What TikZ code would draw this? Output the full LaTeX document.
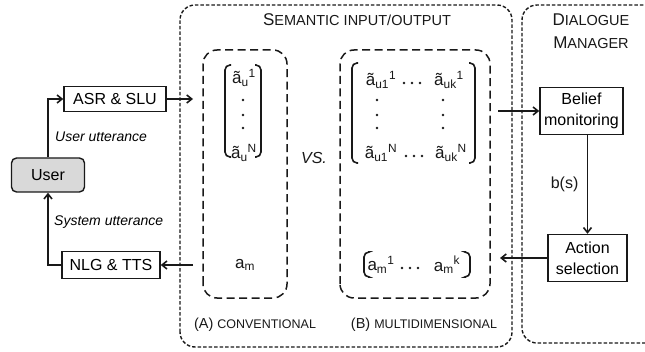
\documentclass[tikz,border=0pt]{standalone}
\usepackage{fontspec}
\setmainfont{Liberation Sans}
\usepackage{tikz}
\usetikzlibrary{arrows.meta, positioning, calc}
\definecolor{mydark}{RGB}{25,25,25}
\definecolor{usergray}{RGB}{217,217,217}
% capital first letter, rest in smaller capitals
\newcommand{\titlecaps}[2]{{\fontsize{17}{23}\selectfont #1}{\fontsize{14.5}{23}\selectfont #2}}
\newcommand{\labelcaps}[2]{{\fontsize{14.5}{17}\selectfont #1}{\fontsize{12.5}{17}\selectfont #2}}
\tikzset{
  block/.style={rectangle, draw=mydark, fill=white, align=center,
    font=\fontsize{16}{21}\selectfont, inner sep=2pt, line width=1.4pt},
  userblock/.style={block, fill=usergray, rounded corners=5pt},
  outerbox/.style={draw=mydark, line width=1.4pt, dash pattern=on 3.5pt off 2pt, rounded corners=15pt},
  innerbox/.style={draw=mydark, line width=1.5pt, dash pattern=on 8pt off 4.5pt, rounded corners=14pt},
  arrow/.style={-{Straight Barb[length=5pt,width=8pt]}, line width=1.6pt, color=mydark},
  entry/.style={font=\fontsize{17}{20}\selectfont, inner sep=0pt, text=mydark},
  vdot/.style={circle, fill=mydark, inner sep=0pt, minimum size=2.6pt},
  bracket/.style={line width=1.6pt, color=mydark, rounded corners=5pt},
  utter/.style={font=\fontsize{14}{17}\selectfont\itshape, anchor=west, inner sep=0pt},
  caption/.style={inner sep=0pt, text=mydark}
}

\begin{document}
\begin{tikzpicture}[x=1pt, y=1pt]
  \clip (0,0) rectangle (645,351);
  \fill[white] (0,0) rectangle (645,351);

  % Semantic input/output and dialogue manager frames
  \draw[outerbox] (180,4) rectangle (512,346);
  \draw[outerbox] (522,8) rectangle (670,346);
  \node[caption] (semtitle) at (357,331) {\titlecaps{S}{EMANTIC INPUT/OUTPUT}};
  \node[caption, align=center, font=\fontsize{17}{23}\selectfont] (dmtitle) at (591,320) {\titlecaps{D}{IALOGUE}\\\titlecaps{M}{ANAGER}};

  % Conventional and multidimensional boxes
  \draw[innerbox] (203,53) rectangle (287,301);
  \draw[innerbox] (340,53) rectangle (490,301);
  \node[caption] (capa) at (255,26) {\labelcaps{(A) }{CONVENTIONAL}};
  \node[caption] (capb) at (424,26) {\labelcaps{(B) }{MULTIDIMENSIONAL}};

  % Pipeline blocks
  \node[block, minimum width=102pt, minimum height=25pt] (asr) at (115,252) {ASR \& SLU};
  \node[userblock, minimum width=73pt, minimum height=34pt] (user) at (48,176) {User};
  \node[block, minimum width=98pt, minimum height=27pt] (nlg) at (111,86) {NLG \& TTS};
  \node[block, minimum width=83pt, minimum height=47pt] (belief) at (581.5,240) {Belief\\monitoring};
  \node[block, minimum width=79pt, minimum height=47pt] (action) at (587.5,93) {Action\\selection};

  % Free ends of the arrows
  \coordinate (semin) at (193,252);
  \coordinate (semout) at (193,86);
  \coordinate (dmin) at (498,240);
  \coordinate (dmout) at (500,93);

  % Arrows
  \draw[arrow] (user.north) |- (asr.west);
  \draw[arrow] (asr.east) -- (semin);
  \draw[arrow] (semout) -- (nlg.east);
  \draw[arrow] (nlg.west) -| (user.south);
  \draw[arrow] (dmin) -- (belief.west);
  \draw[arrow] (belief.south -| action.north) -- (action.north)
    node[midway, left=5pt, font=\fontsize{16}{19}\selectfont] (bs) {b(s)};
  \draw[arrow] (action.west) -- (dmout);
  \node[utter] (uutt) at (55,214) {User utterance};
  \node[utter] (sutt) at (54,129) {System utterance};

  % Conventional column vector
  \node[entry] (a1) at (244,273) {ã\textsubscript{u}\textsuperscript{1}};
  \node[entry] (aN) at (244,198) {ã\textsubscript{u}\textsuperscript{N}};
  \foreach \y [count=\i] in {251,236,223}
    \node[vdot] (ad\i) at (243,\y) {};
  \draw[bracket] (231,286) -- (225,286) -- (225,194) -- (231,194);
  \draw[bracket] (255,286) -- (261,286) -- (261,194) -- (255,194);
  \node[entry, font=\fontsize{16}{19}\selectfont\itshape] (vs) at (314,193) {VS.};

  % Multidimensional matrix
  \node[entry] (b11) at (381,271) {ã\textsubscript{u1}\textsuperscript{1}};
  \node[entry] (b1k) at (449,271) {ã\textsubscript{uk}\textsuperscript{1}};
  \node[entry] (bN1) at (381,198) {ã\textsubscript{u1}\textsuperscript{N}};
  \node[entry] (bNk) at (451,198) {ã\textsubscript{uk}\textsuperscript{N}};
  \foreach \x [count=\i] in {404,412,420} {
    \node[vdot] (bh\i) at (\x,268) {};
    \node[vdot] (bg\i) at (\x+2,195) {};
  }
  \foreach \y [count=\i] in {251,236,223} {
    \node[vdot] (bl\i) at (377,\y) {};
    \node[vdot] (br\i) at (443,\y) {};
  }
  \draw[bracket] (358,288) -- (352,288) -- (352,188) -- (358,188);
  \draw[bracket] (469,288) -- (475,288) -- (475,188) -- (469,188);

  % Machine acts
  \node[entry] (am) at (245,86) {a\textsubscript{m}};
  \node[entry] (am1) at (381,86) {a\textsubscript{m}\textsuperscript{1}};
  \node[entry] (amk) at (447,86) {a\textsubscript{m}\textsuperscript{k}};
  \foreach \x [count=\i] in {402,410,418}
    \node[vdot] (mh\i) at (\x,83) {};
  \draw[bracket] (368,99) -- (364,99) -- (364,74) -- (368,74);
  \draw[bracket] (466,99) -- (470,99) -- (470,74) -- (466,74);
\end{tikzpicture}
\end{document}
